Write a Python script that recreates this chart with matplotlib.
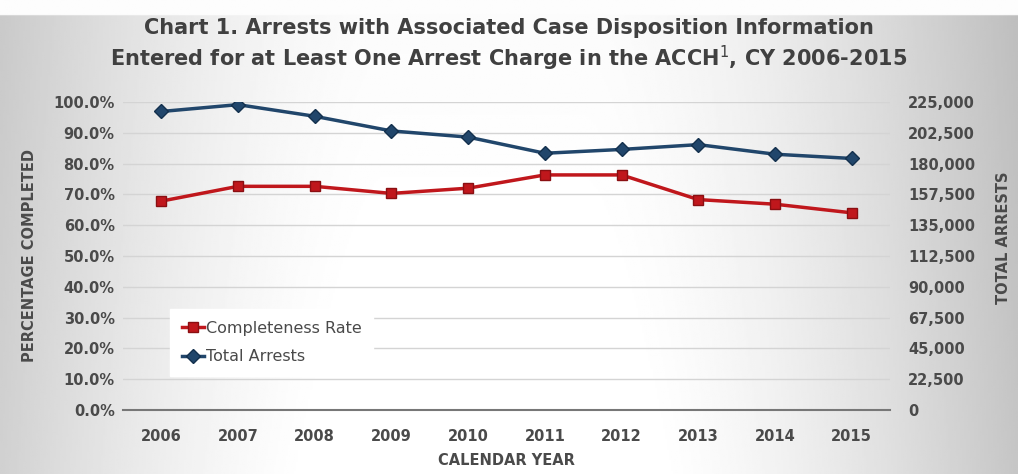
import numpy as np
import matplotlib
matplotlib.use("Agg")
import matplotlib.pyplot as plt
from matplotlib.ticker import FuncFormatter

years = ["2006", "2007", "2008", "2009", "2010", "2011", "2012", "2013", "2014", "2015"]
completeness_rate = [67.8, 72.6, 72.6, 70.3, 72.0, 76.3, 76.3, 68.3, 66.8, 64.0]
total_arrests = [218000, 223000, 214500, 203800, 199300, 187500, 190300, 193800, 186800, 183700]
left_ticks = [0, 10, 20, 30, 40, 50, 60, 70, 80, 90, 100]
right_ticks = [0, 22500, 45000, 67500, 90000, 112500, 135000, 157500, 180000, 202500, 225000]

plt.rcParams['font.family'] = ['DejaVu Sans']
txt = '#4a4a4a'
red = '#c0171c'
blue = '#21466b'

fig = plt.figure(figsize=(10.18, 4.74), dpi=100)

# background gradient (slide look)
bg = fig.add_axes([0, 0, 1, 1], zorder=-10)
xx, yy = np.meshgrid(np.linspace(-1, 1, 500), np.linspace(0, 1, 250))
hx = np.abs(xx + 0.05)
val = 0.985 - 0.24 * np.clip(hx - 0.2, 0, None) ** 1.6 / (0.85 ** 1.6)
val = val + 0.03 * (1 - yy)
val = np.clip(val, 0, 1)
top = yy > 0.97
val[top] = 0.99
bg.imshow(val, cmap='gray', vmin=0, vmax=1, aspect='auto', extent=[0, 1, 0, 1], origin='lower')
bg.axis('off')

ax = fig.add_axes([0.1208, 0.135, 0.7535, 0.650])
ax.patch.set_alpha(0)
x = np.arange(len(years))
ax.set_xlim(-0.5, len(years) - 0.5)
ax.set_ylim(0, 100)
ax.set_yticks(left_ticks)
ax.yaxis.set_major_formatter(FuncFormatter(lambda v, p: f"{v:.1f}%"))
ax.set_xticks(x)
ax.set_xticklabels(years)
ax.grid(axis='y', color='#d4d4d4', linewidth=1.0)
ax.set_axisbelow(True)
for s in ['top', 'right', 'left']:
    ax.spines[s].set_visible(False)
ax.spines['bottom'].set_color('#777777')
ax.spines['bottom'].set_linewidth(1.5)
ax.tick_params(axis='both', length=0, labelsize=10.5, labelcolor=txt, pad=6)
ax.tick_params(axis='x', pad=14)
for lbl in ax.get_xticklabels() + ax.get_yticklabels():
    lbl.set_fontweight('bold')
ax.set_ylabel('PERCENTAGE COMPLETED', fontsize=10.5, fontweight='bold', color=txt, labelpad=12)
ax.set_xlabel('CALENDAR YEAR', fontsize=10.5, fontweight='bold', color=txt, labelpad=6)

ax2 = ax.twinx()
ax2.set_ylim(0, 225000)
ax2.set_yticks(right_ticks)
ax2.yaxis.set_major_formatter(FuncFormatter(lambda v, p: f"{int(v):,}"))
for s in ax2.spines.values():
    s.set_visible(False)
ax2.tick_params(axis='y', length=0, labelsize=10.5, labelcolor=txt, pad=13)
for lbl in ax2.get_yticklabels():
    lbl.set_fontweight('bold')
ax2.set_ylabel('TOTAL ARRESTS', fontsize=10.5, fontweight='bold', color=txt, labelpad=8)
ax2.yaxis.set_label_coords(1.138, 0.56)

l1, = ax.plot(x, completeness_rate, color=red, linewidth=2.5, marker='s', markersize=7,
              markerfacecolor=red, markeredgecolor='#8a0f12', label='Completeness Rate', zorder=5)
l2, = ax2.plot(x, total_arrests, color=blue, linewidth=2.5, marker='D', markersize=7,
               markerfacecolor=blue, markeredgecolor='#13304d', label='Total Arrests', zorder=5)

leg = ax.legend(handles=[l1, l2], loc='lower left', bbox_to_anchor=(0.061, 0.11),
                frameon=True, fancybox=False, fontsize=11.5, handlelength=1.4,
                handletextpad=0.1, labelspacing=0.85, borderpad=0.75, borderaxespad=0)
leg.get_frame().set_facecolor('white')
leg.get_frame().set_edgecolor('white')
leg.get_frame().set_alpha(1)
for t in leg.get_texts():
    t.set_color(txt)
leg.set_zorder(20)

fig.text(0.5, 0.94, 'Chart 1. Arrests with Associated Case Disposition Information',
         ha='center', va='center', fontsize=15, fontweight='bold', color='#404040')
fig.text(0.5, 0.877, 'Entered for at Least One Arrest Charge in the ACCH$^{1}$, CY 2006-2015',
         ha='center', va='center', fontsize=15, fontweight='bold', color='#404040')

fig.savefig('out.png', dpi=100)
